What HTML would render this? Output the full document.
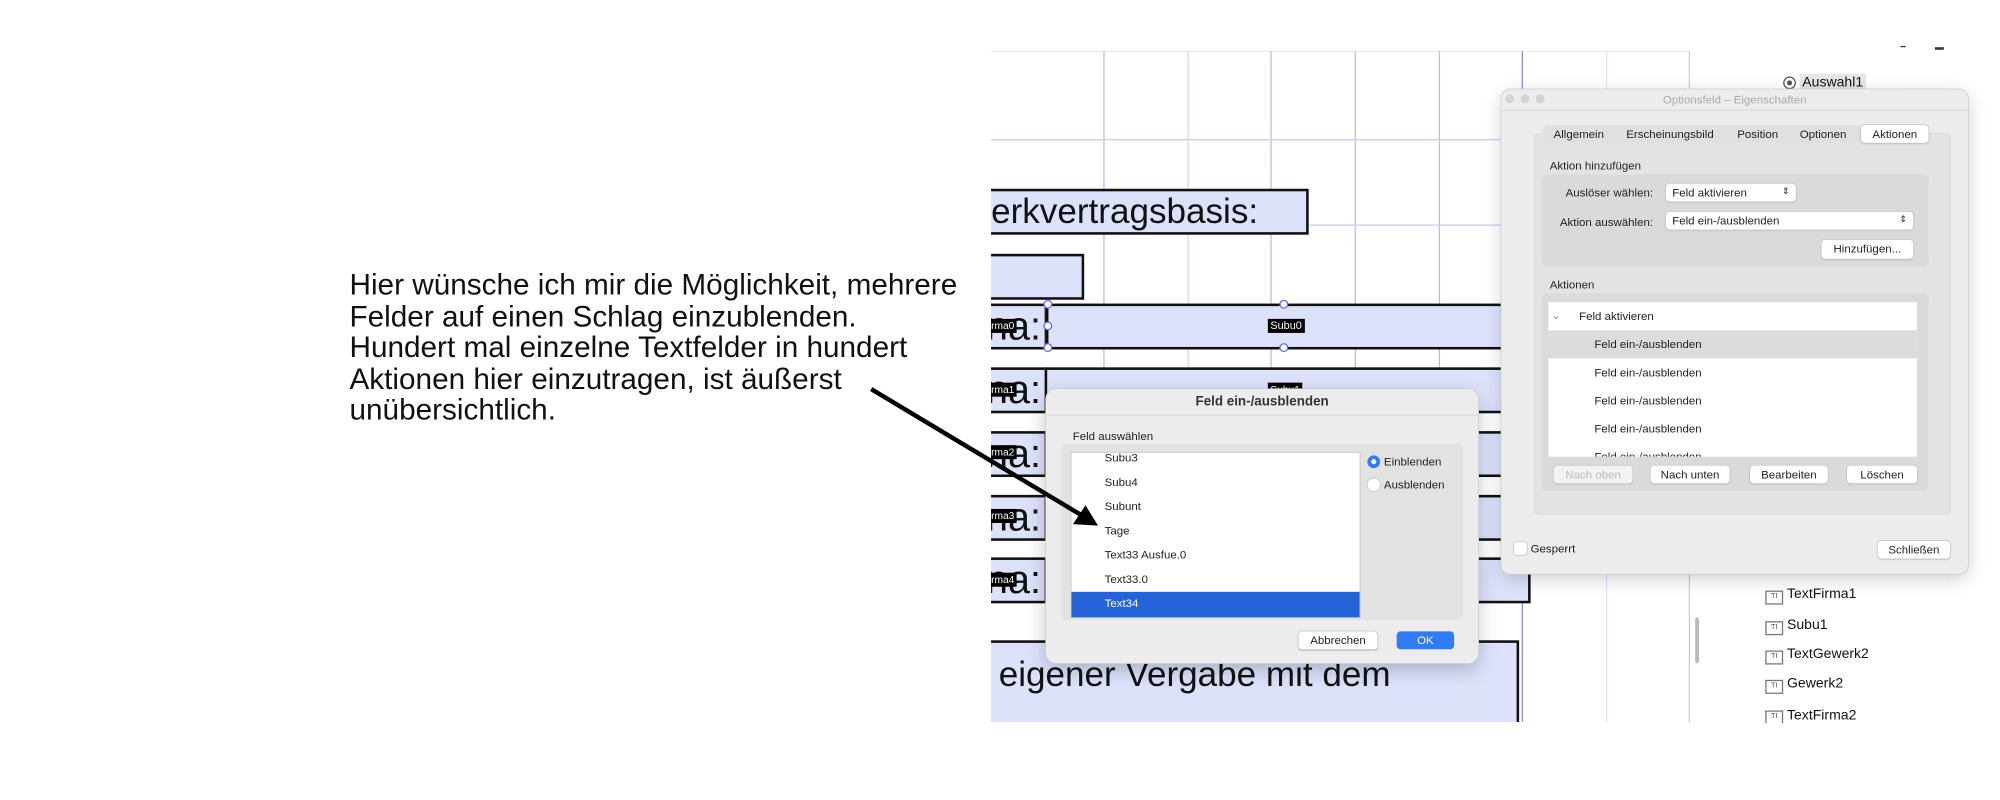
<!DOCTYPE html>
<html><head><meta charset="utf-8"><style>
html,body{margin:0;padding:0;background:#fff;width:2000px;height:800px;overflow:hidden}
#c{position:absolute;left:0;top:0;width:1568px;height:627px;transform:scale(1.27551);transform-origin:0 0;font-family:"Liberation Sans",sans-serif;}
.a{position:absolute}
.t{position:absolute;white-space:nowrap}
.vl{position:absolute;top:40px;height:526px;width:1px;background:#b9bbee}
.hl{position:absolute;left:777px;width:547px;height:1px;background:#c9cbf2}
.box{position:absolute;background:#dde2fb;border:2px solid #111;box-sizing:border-box}
.tag{position:absolute;background:#000;color:#fff;font-size:8px;padding:0 2px;line-height:11px}
.big{position:absolute;font-size:27.5px;color:#111;white-space:nowrap}
.btn{position:absolute;background:#fff;border-radius:3px;box-shadow:0 0 0 .5px #bbb,0 1px 1px #ccc;font-size:9px;text-align:center;line-height:14px;color:#222}
.ui{font-size:9px;color:#222}
#clip{position:absolute;left:0;top:0;width:1568px;height:627px;clip-path:inset(40px 0 61px 777px)}
</style></head><body><div id="c">

<div class="a" style="left:274px;top:211px;font-size:23.3px;line-height:24.5px;color:#111;white-space:nowrap">Hier wünsche ich mir die Möglichkeit, mehrere<br>Felder auf einen Schlag einzublenden.<br>Hundert mal einzelne Textfelder in hundert<br>Aktionen hier einzutragen, ist äußerst<br>unübersichtlich.</div>

<div id="clip">
<div class="hl" style="top:40px;background:#eee"></div>
<div class="vl" style="left:865px"></div>
<div class="vl" style="left:931px;background:#d4d6f5"></div>
<div class="vl" style="left:996px"></div>
<div class="vl" style="left:1062px"></div>
<div class="vl" style="left:1128px"></div>
<div class="vl" style="left:1193px;background:#8e90e0"></div>
<div class="vl" style="left:1259px;background:#e2e3f5"></div>
<div class="vl" style="left:1324px;background:#ccc"></div>
<div class="hl" style="top:109px"></div>
<div class="hl" style="top:176px"></div>
<div class="hl" style="top:309px"></div>

<div class="box" style="left:770px;top:148px;width:256px;height:36px"></div>
<div class="big" style="left:777px;top:148px;line-height:35px">erkvertragsbasis:</div>
<div class="box" style="left:770px;top:199px;width:80px;height:36px"></div>

<div class="box" style="left:770px;top:238px;width:51px;height:36px"></div>
<div class="box" style="left:820px;top:238px;width:380px;height:36px"></div>
<div class="big" style="left:773px;top:238px;line-height:36px;font-size:31px">na:</div>
<div class="tag" style="left:775px;top:250px">rma0</div>
<div class="tag" style="left:994px;top:250px;font-size:8.5px">Subu0</div>
<div class="a" style="left:818px;top:235px;width:5px;height:5px;border:1px solid #66f;border-radius:50%;background:#fff"></div>
<div class="a" style="left:818px;top:252px;width:5px;height:5px;border:1px solid #66f;border-radius:50%;background:#fff"></div>
<div class="a" style="left:818px;top:269px;width:5px;height:5px;border:1px solid #66f;border-radius:50%;background:#fff"></div>
<div class="a" style="left:1003px;top:235px;width:5px;height:5px;border:1px solid #66f;border-radius:50%;background:#fff"></div>
<div class="a" style="left:1003px;top:269px;width:5px;height:5px;border:1px solid #66f;border-radius:50%;background:#fff"></div>

<div class="box" style="left:770px;top:288px;width:51px;height:36px"></div>
<div class="box" style="left:819px;top:288px;width:381px;height:36px"></div>
<div class="big" style="left:773px;top:288px;line-height:36px;font-size:31px">na:</div>
<div class="tag" style="left:775px;top:300px">rma1</div>
<div class="tag" style="left:994px;top:300px">Subu1</div>

<div class="box" style="left:770px;top:338px;width:51px;height:36px"></div>
<div class="box" style="left:819px;top:338px;width:381px;height:36px"></div>
<div class="big" style="left:773px;top:338px;line-height:36px;font-size:31px">na:</div>
<div class="tag" style="left:775px;top:349px">rma2</div>

<div class="box" style="left:770px;top:388px;width:51px;height:36px"></div>
<div class="box" style="left:819px;top:388px;width:381px;height:36px"></div>
<div class="big" style="left:773px;top:388px;line-height:36px;font-size:31px">na:</div>
<div class="tag" style="left:775px;top:399px">rma3</div>

<div class="box" style="left:770px;top:437px;width:51px;height:36px"></div>
<div class="box" style="left:819px;top:437px;width:381px;height:36px"></div>
<div class="big" style="left:773px;top:437px;line-height:36px;font-size:31px">na:</div>
<div class="tag" style="left:775px;top:449px">rma4</div>

<div class="box" style="left:770px;top:502px;width:421px;height:80px"></div>
<div class="big" style="left:783px;top:512px;line-height:34px">eigener Vergabe mit dem</div>
</div>

<div class="a" style="left:1490px;top:36px;width:4px;height:1px;background:#333"></div>
<div class="a" style="left:1517px;top:37px;width:7px;height:1.5px;background:#333"></div>
<div class="a" style="left:1398px;top:60px;width:8px;height:8px;border:1px solid #555;border-radius:50%"></div>
<div class="a" style="left:1401px;top:63px;width:4px;height:4px;background:#555;border-radius:50%"></div>
<div class="t" style="left:1411px;top:58px;background:#e6e6e6;padding:0 2px;font-size:11px;line-height:14px;color:#111">Auswahl1</div>
<div class="a" style="left:1329px;top:484px;width:3px;height:36px;background:#bbb;border-radius:2px"></div>

<div class="a" style="left:1384px;top:463px;width:12px;height:9px;border:1px solid #777;font-size:6px;line-height:9px;text-align:center;color:#555">TI</div>
<div class="t" style="left:1401px;top:460px;font-size:11px;color:#111">TextFirma1</div>
<div class="a" style="left:1384px;top:487px;width:12px;height:9px;border:1px solid #777;font-size:6px;line-height:9px;text-align:center;color:#555">TI</div>
<div class="t" style="left:1401px;top:484px;font-size:11px;color:#111">Subu1</div>
<div class="a" style="left:1384px;top:510px;width:12px;height:9px;border:1px solid #777;font-size:6px;line-height:9px;text-align:center;color:#555">TI</div>
<div class="t" style="left:1401px;top:507px;font-size:11px;color:#111">TextGewerk2</div>
<div class="a" style="left:1384px;top:533px;width:12px;height:9px;border:1px solid #777;font-size:6px;line-height:9px;text-align:center;color:#555">TI</div>
<div class="t" style="left:1401px;top:530px;font-size:11px;color:#111">Gewerk2</div>
<div class="a" style="left:1384px;top:557px;width:12px;height:9px;border:1px solid #777;border-bottom:none;font-size:6px;line-height:9px;text-align:center;color:#555;overflow:hidden">TI</div>
<div class="t" style="left:1401px;top:555px;font-size:11px;color:#111;height:11px;overflow:hidden">TextFirma2</div>

<div class="a" style="left:1177px;top:70px;width:366px;height:380px;background:#ececec;border-radius:7px;box-shadow:0 0 0 .5px #c8c8c8,0 4px 14px rgba(0,0,0,.18)"></div>
<div class="a" style="left:1177px;top:86px;width:366px;height:1px;background:#ddd"></div>
<div class="a" style="left:1180px;top:74px;width:7px;height:7px;border-radius:50%;background:#d3d3d3"></div>
<div class="a" style="left:1192px;top:74px;width:7px;height:7px;border-radius:50%;background:#d3d3d3"></div>
<div class="a" style="left:1204px;top:74px;width:7px;height:7px;border-radius:50%;background:#d3d3d3"></div>
<div class="t" style="left:1177px;width:366px;text-align:center;top:73px;font-size:9px;color:#aaa">Optionsfeld – Eigenschaften</div>
<div class="a" style="left:1203px;top:105px;width:326px;height:298px;background:#e3e3e3;border-radius:4px;box-shadow:0 0 0 .5px #d5d5d5"></div>
<div class="a" style="left:1210px;top:98px;width:250px;height:14px;background:#e0e0e0;border-radius:3px"></div>
<div class="btn" style="left:1459px;top:98px;width:53px">Aktionen</div>
<div class="t ui" style="left:1218px;top:100px">Allgemein</div>
<div class="t ui" style="left:1275px;top:100px">Erscheinungsbild</div>
<div class="t ui" style="left:1362px;top:100px">Position</div>
<div class="t ui" style="left:1411px;top:100px">Optionen</div>
<div class="t ui" style="left:1215px;top:125px">Aktion hinzufügen</div>
<div class="a" style="left:1209px;top:137px;width:303px;height:72px;background:#dadada;border-radius:4px"></div>
<div class="t ui" style="left:1209px;width:87px;text-align:right;top:146px">Auslöser wählen:</div>
<div class="btn" style="left:1306px;top:144px;width:102px;text-align:left;text-indent:5px;height:14px">Feld aktivieren<span style="position:absolute;right:5px;font-size:7px">⇕</span></div>
<div class="t ui" style="left:1209px;width:87px;text-align:right;top:169px">Aktion auswählen:</div>
<div class="btn" style="left:1306px;top:166px;width:194px;text-align:left;text-indent:5px;height:14px">Feld ein-/ausblenden<span style="position:absolute;right:5px;font-size:7px">⇕</span></div>
<div class="btn" style="left:1428px;top:188px;width:72px;height:15px">Hinzufügen...</div>
<div class="t ui" style="left:1215px;top:218px">Aktionen</div>
<div class="a" style="left:1209px;top:230px;width:303px;height:155px;background:#dadada;border-radius:4px"></div>
<div class="a" style="left:1214px;top:237px;width:289px;height:121px;background:#fff;overflow:hidden">
  <div class="t ui" style="left:2px;top:5px;color:#888">⌄</div>
  <div class="t ui" style="left:24px;top:6px">Feld aktivieren</div>
  <div class="a" style="left:0;top:22px;width:289px;height:22px;background:#dcdcdc"></div>
  <div class="t ui" style="left:36px;top:28px">Feld ein-/ausblenden</div>
  <div class="t ui" style="left:36px;top:50px">Feld ein-/ausblenden</div>
  <div class="t ui" style="left:36px;top:72px">Feld ein-/ausblenden</div>
  <div class="t ui" style="left:36px;top:94px">Feld ein-/ausblenden</div>
  <div class="t ui" style="left:36px;top:116px">Feld ein-/ausblenden</div>
</div>
<div class="btn" style="left:1218px;top:365px;width:62px;color:#bbb;background:#f2f2f2">Nach oben</div>
<div class="btn" style="left:1294px;top:365px;width:62px">Nach unten</div>
<div class="btn" style="left:1372px;top:365px;width:61px">Bearbeiten</div>
<div class="btn" style="left:1448px;top:365px;width:55px">Löschen</div>
<div class="a" style="left:1187px;top:425px;width:10px;height:10px;background:#fff;border-radius:2px;box-shadow:0 0 0 .5px #bbb"></div>
<div class="t ui" style="left:1200px;top:425px">Gesperrt</div>
<div class="btn" style="left:1472px;top:424px;width:57px">Schließen</div>

<div class="a" style="left:820px;top:305px;width:339px;height:215px;background:#ececec;border-radius:8px;box-shadow:0 0 0 .5px #c8c8c8,0 5px 16px rgba(0,0,0,.22)"></div>
<div class="a" style="left:820px;top:325px;width:339px;height:1px;background:#dcdcdc"></div>
<div class="t" style="left:820px;width:339px;text-align:center;top:309px;font-size:10.5px;font-weight:bold;color:#333">Feld ein-/ausblenden</div>
<div class="t ui" style="left:841px;top:337px">Feld auswählen</div>
<div class="a" style="left:832px;top:348px;width:315px;height:138px;background:#e2e2e2;border-radius:4px"></div>
<div class="a" style="left:840px;top:355px;width:226px;height:129px;background:#fff;box-shadow:0 0 0 .5px #bbb;overflow:hidden">
  <div class="t ui" style="left:26px;top:-1px">Subu3</div>
  <div class="t ui" style="left:26px;top:18px">Subu4</div>
  <div class="t ui" style="left:26px;top:37px">Subunt</div>
  <div class="t ui" style="left:26px;top:56px">Tage</div>
  <div class="t ui" style="left:26px;top:75px">Text33 Ausfue.0</div>
  <div class="t ui" style="left:26px;top:94px">Text33.0</div>
  <div class="a" style="left:0;top:109px;width:226px;height:20px;background:#2463d8"></div>
  <div class="t ui" style="left:26px;top:113px;color:#fff">Text34</div>
</div>
<div class="a" style="left:1072px;top:357px;width:10px;height:10px;border-radius:50%;background:#2f7cf6"></div>
<div class="a" style="left:1075px;top:360px;width:4px;height:4px;border-radius:50%;background:#fff"></div>
<div class="t ui" style="left:1085px;top:357px">Einblenden</div>
<div class="a" style="left:1072px;top:375px;width:10px;height:10px;border-radius:50%;background:#fff;box-shadow:0 0 0 .5px #bbb"></div>
<div class="t ui" style="left:1085px;top:375px">Ausblenden</div>
<div class="btn" style="left:1018px;top:495px;width:62px">Abbrechen</div>
<div class="btn" style="left:1095px;top:495px;width:45px;background:#2f7cf6;color:#fff;box-shadow:none">OK</div>

<svg class="a" style="left:0;top:0" width="1568" height="627">
  <line x1="683" y1="305" x2="848" y2="404" stroke="#000" stroke-width="3.5"/>
  <polygon points="859,411 843,410 851,398" fill="#000" stroke="#000" stroke-width="2"/>
</svg>
</div></body></html>
